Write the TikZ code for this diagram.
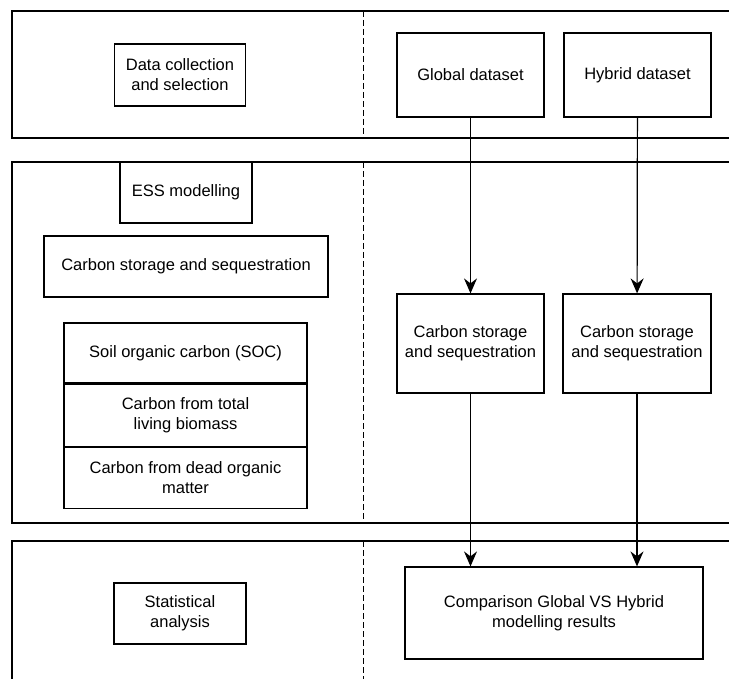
\documentclass[tikz,border=0pt]{standalone}
\usepackage{fontspec}
\setmainfont{Liberation Sans}
\usepackage{tikz}
\usetikzlibrary{arrows.meta, positioning}
\tikzstyle{arrowline} = [line width=1.2pt,-{Stealth[length=15pt,width=13pt,inset=5pt]}]
\tikzstyle{box} = [draw, line width=1.2pt, align=center, inner sep=0pt]
\tikzstyle{band} = [line width=1.3pt]
\tikzstyle{divider} = [line width=1pt, dash pattern=on 6pt off 3pt]

\begin{document}
\begin{tikzpicture}[x=1pt, y=-1pt, font=\fontsize{16.5}{20}\selectfont]
	\useasboundingbox (0,0) rectangle (729,679);
	% Bands:
	% open on the right (and the last one at the bottom)
	\draw [band] (729,11) -- (12,11) -- (12,138) -- (729,138);
	\draw [band] (729,162) -- (12,162) -- (12,523) -- (729,523);
	\draw [band] (729,541) -- (12,541) -- (12,679);
	% Dashed dividers:
	\draw [divider] (363,11) -- (363,138);
	\draw [divider] (363,162) -- (363,523);
	\draw [divider] (363,541) -- (363,679);

	% Data collection:
	\node [box, minimum width=131pt, minimum height=62pt] (data) at (180,75) {Data collection\\and selection};
	\node [box, minimum width=147pt, minimum height=84pt] (global) at (470.5,75) {Global dataset};
	\node [box, minimum width=147pt, minimum height=84pt] (hybrid) at (637.5,75) {Hybrid dataset};

	% ESS modelling:
	\node [box, minimum width=132pt, minimum height=61pt] (ess) at (186,192.5) {ESS modelling};
	\node [box, minimum width=284pt, minimum height=61pt] (carbon) at (186,266.5) {Carbon storage and sequestration};
	% The three pools are stacked on each other:
	\node [box, minimum width=243pt, minimum height=60pt] (soc) at (185.5,353) {Soil organic carbon (SOC)};
	\node [box, minimum width=243pt, minimum height=62pt, below=0pt of soc] (living) {Carbon from total\\living biomass};
	\node [box, minimum width=243pt, minimum height=61pt, below=0pt of living] (dead) {Carbon from dead organic\\matter};
	\node [box, minimum width=147pt, minimum height=99pt] (cglobal) at (470.5,343.5) {Carbon storage\\and sequestration};
	\node [box, minimum width=148pt, minimum height=99pt] (chybrid) at (637,343.5) {Carbon storage\\and sequestration};

	% Statistical analysis:
	\node [box, minimum width=132pt, minimum height=61pt] (stat) at (180,613.5) {Statistical\\analysis};
	\node [box, minimum width=298pt, minimum height=92pt] (compare) at (554,613) {Comparison Global VS Hybrid\\modelling results};

	% Arrows:
	\draw [arrowline] (global) -- (cglobal);
	\draw [arrowline] (hybrid) -- (chybrid);
	\draw [arrowline] (cglobal.south) -- (cglobal.south |- compare.north);
	\draw [arrowline] (chybrid.south) -- (chybrid.south |- compare.north);
\end{tikzpicture}
\end{document}
